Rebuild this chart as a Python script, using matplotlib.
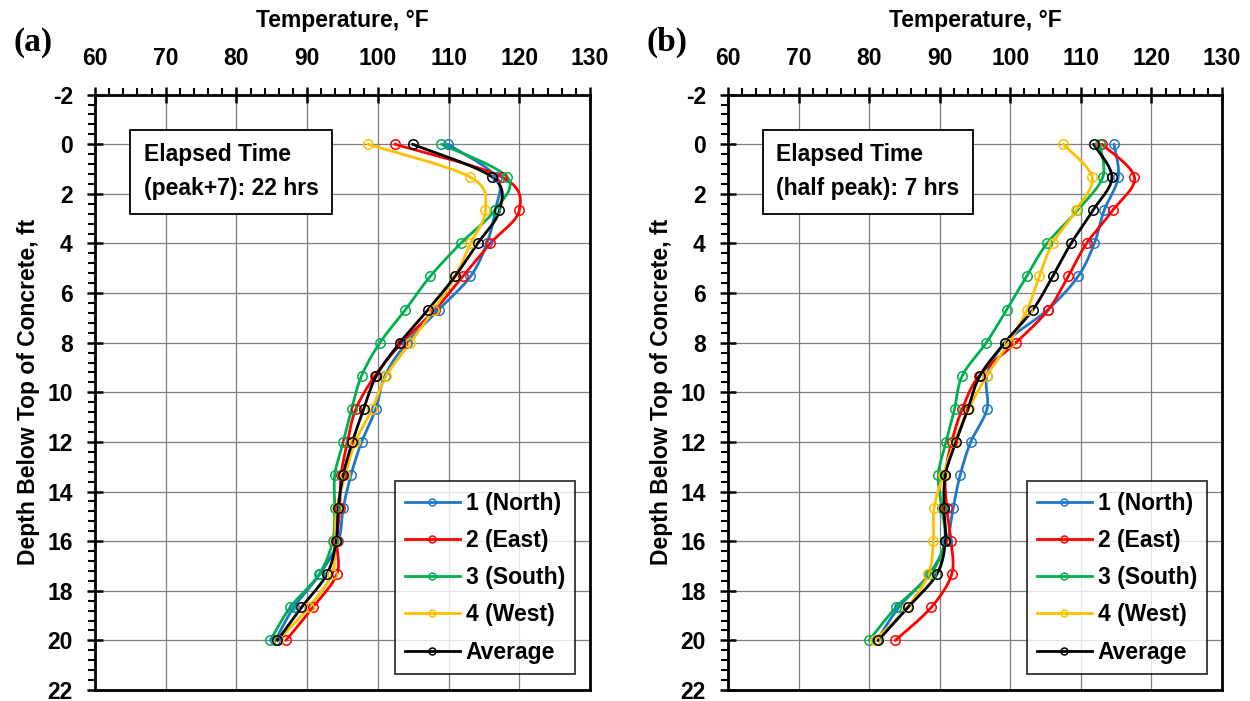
import matplotlib
matplotlib.use("Agg")
import matplotlib.pyplot as plt
from matplotlib.ticker import MultipleLocator
from matplotlib.lines import Line2D
import numpy as np

plt.rcParams["axes.unicode_minus"] = False

# Sensor depths below top of concrete (ft)
depth = [0.0, 1.33, 2.67, 4.0, 5.33, 6.67, 8.0, 9.33, 10.67, 12.0,
         13.33, 14.67, 16.0, 17.33, 18.67, 20.0]

# (a) Elapsed time peak+7: 22 hrs, temperatures in °F
a_north = [109.9, 116.8, 116.6, 115.4, 113.1, 108.6, 104.1, 101.0, 99.7, 97.7,
           96.2, 95.1, 94.4, 91.8, 88.1, 85.5]
a_east = [102.4, 117.6, 120.0, 115.9, 112.0, 108.1, 103.4, 99.6, 96.9, 95.7,
          94.8, 94.6, 94.2, 94.2, 90.8, 87.0]
a_south = [109.0, 118.3, 116.5, 111.7, 107.4, 103.9, 100.3, 97.7, 96.3, 95.1,
           93.9, 93.9, 93.6, 91.7, 87.6, 84.8]
a_west = [98.6, 113.1, 115.2, 113.1, 110.9, 107.9, 104.6, 101.2, 99.2, 96.8,
          95.4, 94.2, 93.9, 93.5, 90.2, 85.9]
a_avg = [104.9, 116.2, 117.2, 114.1, 110.9, 107.1, 103.1, 99.8, 98.0, 96.4,
         95.1, 94.4, 94.1, 92.8, 89.2, 85.8]

# (b) Elapsed time half peak: 7 hrs, temperatures in °F
b_north = [114.7, 115.3, 113.3, 111.9, 109.6, 105.3, 99.3, 96.7, 96.7, 94.4,
           92.9, 91.9, 91.0, 88.5, 84.2, 81.1]
b_east = [113.0, 117.6, 114.5, 110.8, 108.2, 105.4, 100.8, 95.6, 93.2, 91.7,
          90.8, 91.0, 91.6, 91.7, 88.8, 83.7]
b_south = [112.7, 113.1, 109.5, 105.2, 102.3, 99.5, 96.6, 93.2, 92.1, 90.9,
           89.8, 90.3, 90.7, 88.7, 83.8, 80.0]
b_west = [107.5, 111.6, 109.3, 106.0, 104.1, 102.4, 99.8, 96.7, 94.1, 92.1,
          90.5, 89.2, 89.1, 88.4, 85.4, 80.8]
b_avg = [111.8, 114.4, 111.7, 108.6, 106.0, 103.2, 99.2, 95.7, 94.0, 92.3,
         90.8, 90.6, 90.8, 89.6, 85.5, 81.3]

series_names = ["1 (North)", "2 (East)", "3 (South)", "4 (West)", "Average"]
series_colors = ["#1F77C8", "#FF0000", "#00B050", "#FFC000", "#000000"]

panel_labels = ["(a)", "(b)"]
panel_notes = ["Elapsed Time\n(peak+7): 22 hrs", "Elapsed Time\n(half peak): 7 hrs"]
x_title = "Temperature, °F"
y_title = "Depth Below Top of Concrete, ft"

SANS = ["Liberation Sans", "DejaVu Sans"]
FS = 16.5


def smooth_path(ax, xs, ys, steps=16):
    """Smoothed connector through the points (cubic Bezier, Catmull-Rom
    control points), computed in display space so the curvature looks even."""
    pts = ax.transData.transform(np.column_stack([xs, ys]))
    n = len(pts)
    out = [pts[0]]
    t = np.linspace(0, 1, steps + 1)[1:, None]
    for k in range(n - 1):
        p0 = pts[k - 1] if k > 0 else pts[k]
        p1, p2 = pts[k], pts[k + 1]
        p3 = pts[k + 2] if k + 2 < n else pts[k + 1]
        c1 = p1 + (p2 - p0) / 6.0
        c2 = p2 - (p3 - p1) / 6.0
        seg = ((1 - t) ** 3) * p1 + 3 * ((1 - t) ** 2) * t * c1 \
            + 3 * (1 - t) * t ** 2 * c2 + t ** 3 * p2
        out.extend(seg)
    out = np.array(out)
    back = ax.transData.inverted().transform(out)
    return back[:, 0], back[:, 1]


fig = plt.figure(figsize=(12.5, 7.01), dpi=100)
axes_boxes = [[95 / 1250, 1 - 690 / 701, 495 / 1250, 595.4 / 701],
              [728 / 1250, 1 - 690 / 701, 494 / 1250, 595.4 / 701]]

panels = [
    [a_north, a_east, a_south, a_west, a_avg],
    [b_north, b_east, b_south, b_west, b_avg],
]

for i, data in enumerate(panels):
    ax = fig.add_axes(axes_boxes[i])
    ax.set_xlim(60, 130)
    ax.set_ylim(22, -2)

    for vals, col in zip(data, series_colors):
        sx, sy = smooth_path(ax, vals, depth)
        ax.plot(sx, sy, color=col, lw=2.0, zorder=3, solid_capstyle="round")
        ax.plot(vals, depth, ls="none", marker="o", ms=6.8,
                mfc="none", mec=col, mew=1.1, zorder=4)

    ax.xaxis.set_major_locator(MultipleLocator(10))
    ax.xaxis.set_minor_locator(MultipleLocator(2))
    ax.yaxis.set_major_locator(MultipleLocator(2))
    ax.yaxis.set_minor_locator(MultipleLocator(0.4))
    ax.xaxis.tick_top()
    ax.xaxis.set_label_position("top")
    ax.grid(True, which="major", color="#7f7f7f", lw=0.9, zorder=0)
    ax.set_axisbelow(True)
    for sp in ax.spines.values():
        sp.set_linewidth(2.0)
        sp.set_color("black")
    ax.tick_params(which="major", direction="inout", length=12, width=1.8,
                   labelsize=FS)
    ax.tick_params(axis="x", which="major", pad=12)
    ax.tick_params(axis="y", which="major", pad=10)
    ax.tick_params(which="minor", direction="out", length=5, width=1.5)
    ax.tick_params(axis="x", which="both", top=True, bottom=False)
    ax.tick_params(axis="y", which="both", left=True, right=False)
    for lab in ax.get_xticklabels() + ax.get_yticklabels():
        lab.set_family(SANS)
        lab.set_fontweight("bold")

    ax.set_xlabel(x_title, fontsize=FS, fontweight="bold", family=SANS, labelpad=14)
    ax.set_ylabel(y_title, fontsize=FS, fontweight="bold", family=SANS, labelpad=5)

    ax.text(0.098, 0.918, panel_notes[i], transform=ax.transAxes,
            fontsize=FS, fontweight="bold", family=SANS, va="top", ha="left",
            linespacing=1.6,
            bbox=dict(boxstyle="square,pad=0.6", fc="white", ec="black", lw=1.3),
            zorder=5)

    handles = [Line2D([0], [0], color=c, lw=2.0, marker="o", ms=5,
                      mfc="none", mec=c, mew=1.1) for c in series_colors]
    leg = ax.legend(handles, series_names, loc="lower right",
                    bbox_to_anchor=(0.97, 0.027), borderaxespad=0.0,
                    prop=dict(family=SANS, weight="bold", size=FS),
                    frameon=True, fancybox=False, edgecolor="black",
                    handlelength=2.4, handletextpad=0.25, labelspacing=0.62,
                    borderpad=0.45)
    leg.get_frame().set_linewidth(1.3)
    leg.set_zorder(6)

    fig.text(axes_boxes[i][0] - 0.065, 0.94, panel_labels[i],
             fontsize=24, fontweight="bold", family=["Liberation Serif", "DejaVu Serif"],
             ha="left", va="center")

fig.savefig("out.png", dpi=100)
